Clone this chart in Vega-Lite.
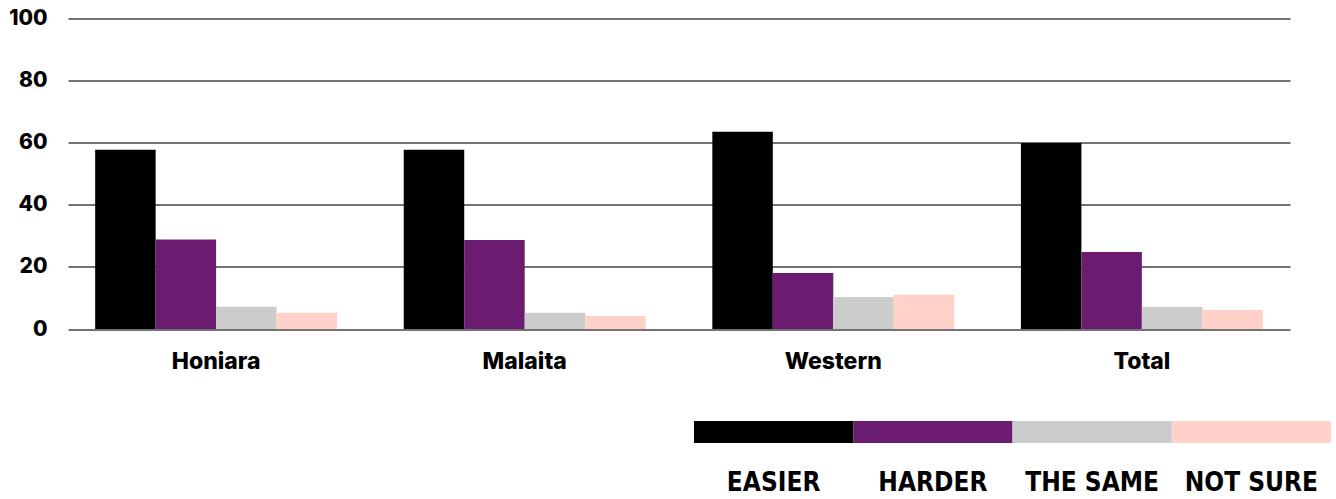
{
  "$schema": "https://vega.github.io/schema/vega-lite/v6.json",
  "padding": {"left": 8, "top": 7.5, "right": 0, "bottom": 0},
  "background": "white",
  "datasets": {
    "survey": [
      {"region": "Honiara", "answer": "EASIER", "pct": 57.7},
      {"region": "Honiara", "answer": "HARDER", "pct": 28.8},
      {"region": "Honiara", "answer": "THE SAME", "pct": 7.2},
      {"region": "Honiara", "answer": "NOT SURE", "pct": 5.2},
      {"region": "Malaita", "answer": "EASIER", "pct": 57.7},
      {"region": "Malaita", "answer": "HARDER", "pct": 28.7},
      {"region": "Malaita", "answer": "THE SAME", "pct": 5.2},
      {"region": "Malaita", "answer": "NOT SURE", "pct": 4.2},
      {"region": "Western", "answer": "EASIER", "pct": 63.5},
      {"region": "Western", "answer": "HARDER", "pct": 18.0},
      {"region": "Western", "answer": "THE SAME", "pct": 10.3},
      {"region": "Western", "answer": "NOT SURE", "pct": 11.0},
      {"region": "Total", "answer": "EASIER", "pct": 59.9},
      {"region": "Total", "answer": "HARDER", "pct": 24.8},
      {"region": "Total", "answer": "THE SAME", "pct": 7.1},
      {"region": "Total", "answer": "NOT SURE", "pct": 6.1}
    ],
    "answers": [
      {"answer": "EASIER"},
      {"answer": "HARDER"},
      {"answer": "THE SAME"},
      {"answer": "NOT SURE"}
    ]
  },
  "spacing": 47.5,
  "vconcat": [
    {
      "width": 1222,
      "height": 310.5,
      "data": {"name": "survey"},
      "mark": {"type": "bar"},
      "encoding": {
        "x": {
          "field": "region",
          "type": "nominal",
          "sort": ["Honiara", "Malaita", "Western", "Total"],
          "scale": {"paddingInner": 0.216, "paddingOuter": 0.088},
          "axis": {
            "title": null,
            "labelAngle": 0,
            "labelFont": "Inter",
            "labelFontWeight": 800,
            "labelFontSize": 23,
            "labelColor": "#000000",
            "labelPadding": 21,
            "domain": false,
            "ticks": false,
            "grid": false
          }
        },
        "xOffset": {
          "field": "answer",
          "type": "nominal",
          "sort": ["EASIER", "HARDER", "THE SAME", "NOT SURE"],
          "scale": {"paddingInner": 0, "paddingOuter": 0}
        },
        "y": {
          "field": "pct",
          "type": "quantitative",
          "scale": {"domain": [0, 100], "nice": false},
          "axis": {
            "title": null,
            "values": [0, 20, 40, 60, 80, 100],
            "grid": true,
            "gridColor": "#444444",
            "gridWidth": 1.3,
            "gridOpacity": 1,
            "domain": false,
            "ticks": false,
            "labelFont": "Inter",
            "labelFontWeight": 800,
            "labelFontSize": 21,
            "labelColor": "#000000",
            "labelPadding": 21
          }
        },
        "color": {
          "field": "answer",
          "type": "nominal",
          "scale": {
            "domain": ["EASIER", "HARDER", "THE SAME", "NOT SURE"],
            "range": ["#000000", "#6c1c70", "#cccccc", "#ffd1c9"]
          },
          "legend": null
        }
      }
    },
    {
      "width": 1263,
      "height": 22,
      "data": {"name": "answers"},
      "mark": {"type": "rect"},
      "encoding": {
        "x": {
          "field": "answer",
          "type": "nominal",
          "sort": ["EASIER", "HARDER", "THE SAME", "NOT SURE"],
          "scale": {"paddingInner": 0, "paddingOuter": 0, "range": [626, 1263]},
          "axis": {
            "title": null,
            "labelAngle": 0,
            "labelFont": "DejaVu Sans Condensed",
            "labelFontWeight": "bold",
            "labelFontSize": 26,
            "labelColor": "#000000",
            "labelPadding": 26,
            "domain": false,
            "ticks": false,
            "grid": false
          }
        },
        "color": {
          "field": "answer",
          "type": "nominal",
          "scale": {
            "domain": ["EASIER", "HARDER", "THE SAME", "NOT SURE"],
            "range": ["#000000", "#6c1c70", "#cccccc", "#ffd1c9"]
          },
          "legend": null
        }
      }
    }
  ],
  "config": {
    "view": {"stroke": null},
    "axis": {"labelFlush": false, "labelOverlap": false}
  }
}
